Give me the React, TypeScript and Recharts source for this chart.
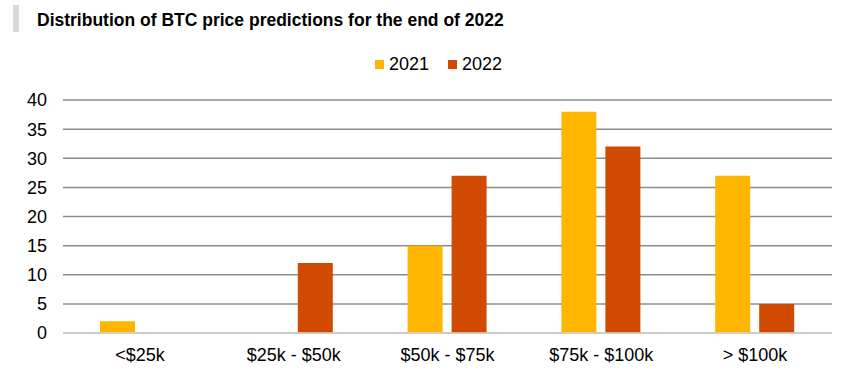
import React from 'react'
import { BarChart, Bar, XAxis, YAxis, CartesianGrid, Legend } from 'recharts'

// ---------------------------------------------------------------------------
// Data
// ---------------------------------------------------------------------------

const categories = ['<$25k', '$25k - $50k', '$50k - $75k', '$75k - $100k', '> $100k']
const values2021 = [2, 0, 15, 38, 27]
const values2022 = [0, 12, 27, 32, 5]
const yTicks = [0, 5, 10, 15, 20, 25, 30, 35, 40]

const seriesNames = ['2021', '2022']
const seriesColors = ['#FFB600', '#D04A02']

const rows = categories.map((c, i) => ({
  category: c,
  y2021: values2021[i],
  y2022: values2022[i],
}))

const FONT = '"Liberation Sans", Arial, Helvetica, sans-serif'

function LegendContent() {
  return (
    <div style={{ display: 'flex', alignItems: 'center', fontFamily: FONT, fontSize: 18, color: '#000' }}>
      {seriesNames.map((name, i) => (
        <div key={name} style={{ display: 'flex', alignItems: 'center', marginRight: i === 0 ? 19 : 0 }}>
          <span style={{ width: 9, height: 9, background: seriesColors[i], display: 'inline-block', marginRight: 5 }} />
          <span>{name}</span>
        </div>
      ))}
    </div>
  )
}

export default function App() {
  return (
    <div style={{ position: 'absolute', left: 0, top: 0, width: 868, height: 377, background: '#fff' }}>
      {/* Title with grey marker */}
      <div style={{ position: 'absolute', left: 13, top: 5, width: 6, height: 27, background: '#d9d9d9' }} />
      <div
        style={{
          position: 'absolute',
          left: 37,
          top: 10,
          fontFamily: FONT,
          fontSize: 17.5,
          fontWeight: 700,
          color: '#000',
          whiteSpace: 'nowrap',
        }}
      >
        Distribution of BTC price predictions for the end of 2022
      </div>

      <div style={{ position: 'absolute', left: 0, top: 0 }}>
        <BarChart
          width={868}
          height={377}
          data={rows}
          margin={{ top: 100, right: 36, bottom: 14, left: 13 }}
          barSize={35}
          barGap={9}
        >
          <CartesianGrid vertical={false} stroke="#8c8c8c" strokeWidth={1.5} />
          <XAxis
            dataKey="category"
            height={30}
            tickLine={false}
            axisLine={{ stroke: '#d9d9d9', strokeWidth: 1.5 }}
            tickMargin={9}
            tick={{ fontSize: 18, fill: '#000', fontFamily: FONT }}
            interval={0}
          />
          <YAxis
            width={50}
            domain={[0, 40]}
            ticks={yTicks}
            axisLine={false}
            tickLine={false}
            tickMargin={10}
            tick={{ fontSize: 18, fill: '#000', fontFamily: FONT }}
          />
          <Legend
            layout="horizontal"
            verticalAlign="middle"
            align="center"
            content={<LegendContent />}
            wrapperStyle={{ position: 'absolute', top: 54, left: 375, width: 'auto' }}
          />
          <Bar dataKey="y2021" name={seriesNames[0]} fill={seriesColors[0]} isAnimationActive={false} />
          <Bar dataKey="y2022" name={seriesNames[1]} fill={seriesColors[1]} isAnimationActive={false} />
        </BarChart>
      </div>
    </div>
  )
}
